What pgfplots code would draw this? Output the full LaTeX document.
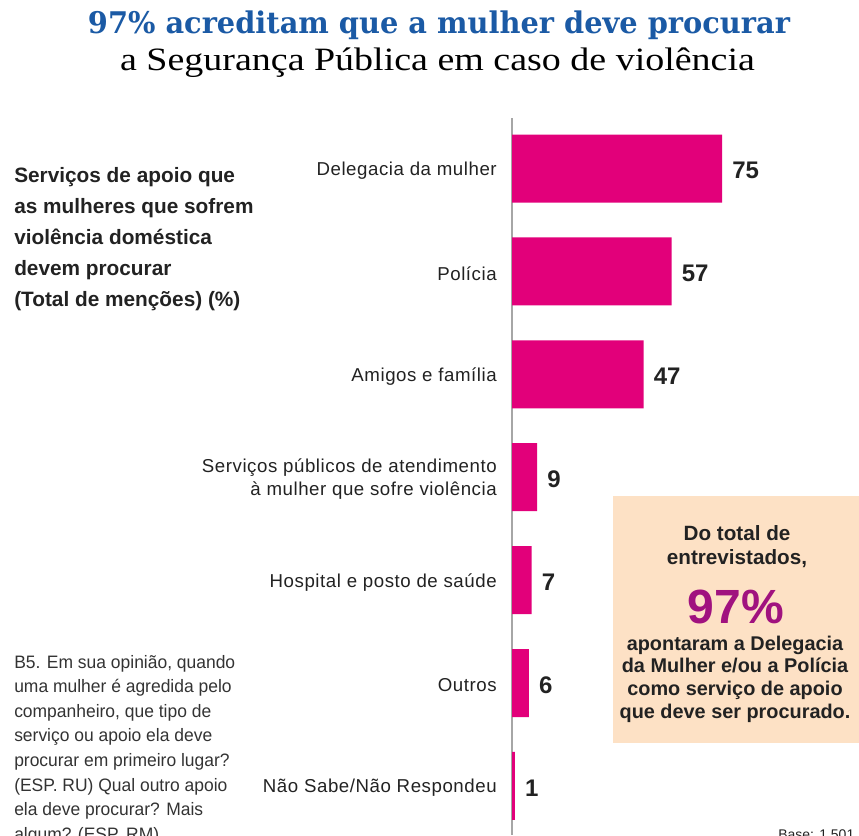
\documentclass[border=0pt]{standalone}
\usepackage{pgfplots}
\pgfplotsset{compat=1.18}
\usepackage{fontspec}
\setmainfont{Liberation Sans}
\newfontfamily\titlefont{DejaVu Serif}
\newfontfamily\seriffont{Liberation Serif}
\newfontfamily\lblfont[LetterSpace=3.0]{Liberation Sans}
\definecolor{barpink}{HTML}{E2007A}
\definecolor{boxpeach}{HTML}{FDE1C5}
\definecolor{purp}{HTML}{A0127F}
\definecolor{titleblue}{HTML}{1B5AA5}
\definecolor{txt}{HTML}{222222}
\begin{document}
\begin{tikzpicture}
\begin{scope}[x=0.75pt,y=-0.75pt]
\useasboundingbox (0,0) rectangle (859,835);
% title
\node[anchor=base, inner sep=0pt, text=titleblue] at (439,33) {\resizebox{526.5pt}{17pt}{\titlefont\bfseries 97\% acreditam que a mulher deve procurar}};
\node[anchor=base, inner sep=0pt, text=black] at (437.5,70) {\resizebox{476pt}{17pt}{\seriffont a Segurança Pública em caso de violência}};
% left heading
\foreach \t [count=\i from 0] in {Serviços de apoio que, as mulheres que sofrem, violência doméstica, devem procurar, (Total de menções) (\%)}{
  \node[anchor=base west, inner sep=0pt, text=txt, font=\bfseries\fontsize{15.6}{18}\selectfont] at (14,{182+31*\i}) {\t};
}
% question note
\foreach \t [count=\i from 0] in {B5. Em sua opinião{,} quando, uma mulher é agredida pelo, companheiro{,} que tipo de, serviço ou apoio ela deve, procurar em primeiro lugar?, (ESP. RU) Qual outro apoio, ela deve procurar? Mais, algum? (ESP. RM)}{
  \node[anchor=base west, inner sep=0pt, text=black!80, font=\fontsize{13.5}{16}\selectfont, xscale=0.97] at (14,{668+24.6*\i}) {\t};
}
% highlight box
\fill[boxpeach] (613,496) rectangle (870,743);
\node[anchor=base, inner sep=0pt, text=txt, font=\bfseries\fontsize{15.5}{18}\selectfont] at (737,540) {Do total de};
\node[anchor=base, inner sep=0pt, text=txt, font=\bfseries\fontsize{15.5}{18}\selectfont] at (737,564) {entrevistados,};
\node[anchor=base, inner sep=0pt, text=purp, font=\bfseries\fontsize{36}{40}\selectfont] at (736,623) {97\%};
\foreach \t [count=\i from 0] in {apontaram a Delegacia, da Mulher e/ou a Polícia, como serviço de apoio, que deve ser procurado.}{
  \node[anchor=base, inner sep=0pt, text=txt, font=\bfseries\fontsize{14.9}{18}\selectfont] at (735,{650+22.8*\i}) {\t};
}
\node[anchor=base west, inner sep=0pt, text=txt, font=\fontsize{10.5}{12}\selectfont] at (778,839) {Base: 1.501};
\end{scope}
% chart
\begin{axis}[
  at={(384pt,-626.25pt)}, anchor=south west,
  scale only axis, width=260.25pt, height=537.75pt,
  xbar, bar width=51pt,
  xmin=0, xmax=123.93,
  ymin=-0.491, ymax=6.477, y dir=reverse,
  ytick={0,1,2,3,4,5,6},
  yticklabels={Delegacia da mulher, Polícia, Amigos e família, {Serviços públicos de atendimento\\à mulher que sofre violência}, Hospital e posto de saúde, Outros, Não Sabe/Não Respondeu},
  axis x line=none, axis y line=left,
  axis line style={-, draw=gray!70, line width=1.1pt},
  major tick length=0pt,
  yticklabel style={font=\lblfont\fontsize{14}{17}\selectfont, text=txt, align=right, inner sep=0pt, xshift=-11.25pt, yshift=-1.5pt},
  /pgf/number format/assume math mode=true,
  nodes near coords,
  nodes near coords style={font=\bfseries\fontsize{18}{20}\selectfont, text=txt, anchor=west, inner sep=0pt, xshift=7.5pt, yshift=-1.5pt},
  clip=false,
]
\addplot[fill=barpink, draw=none] coordinates {(75,0) (57,1) (47,2) (9,3) (7,4) (6,5) (1,6)};
\end{axis}
\end{tikzpicture}
\end{document}
